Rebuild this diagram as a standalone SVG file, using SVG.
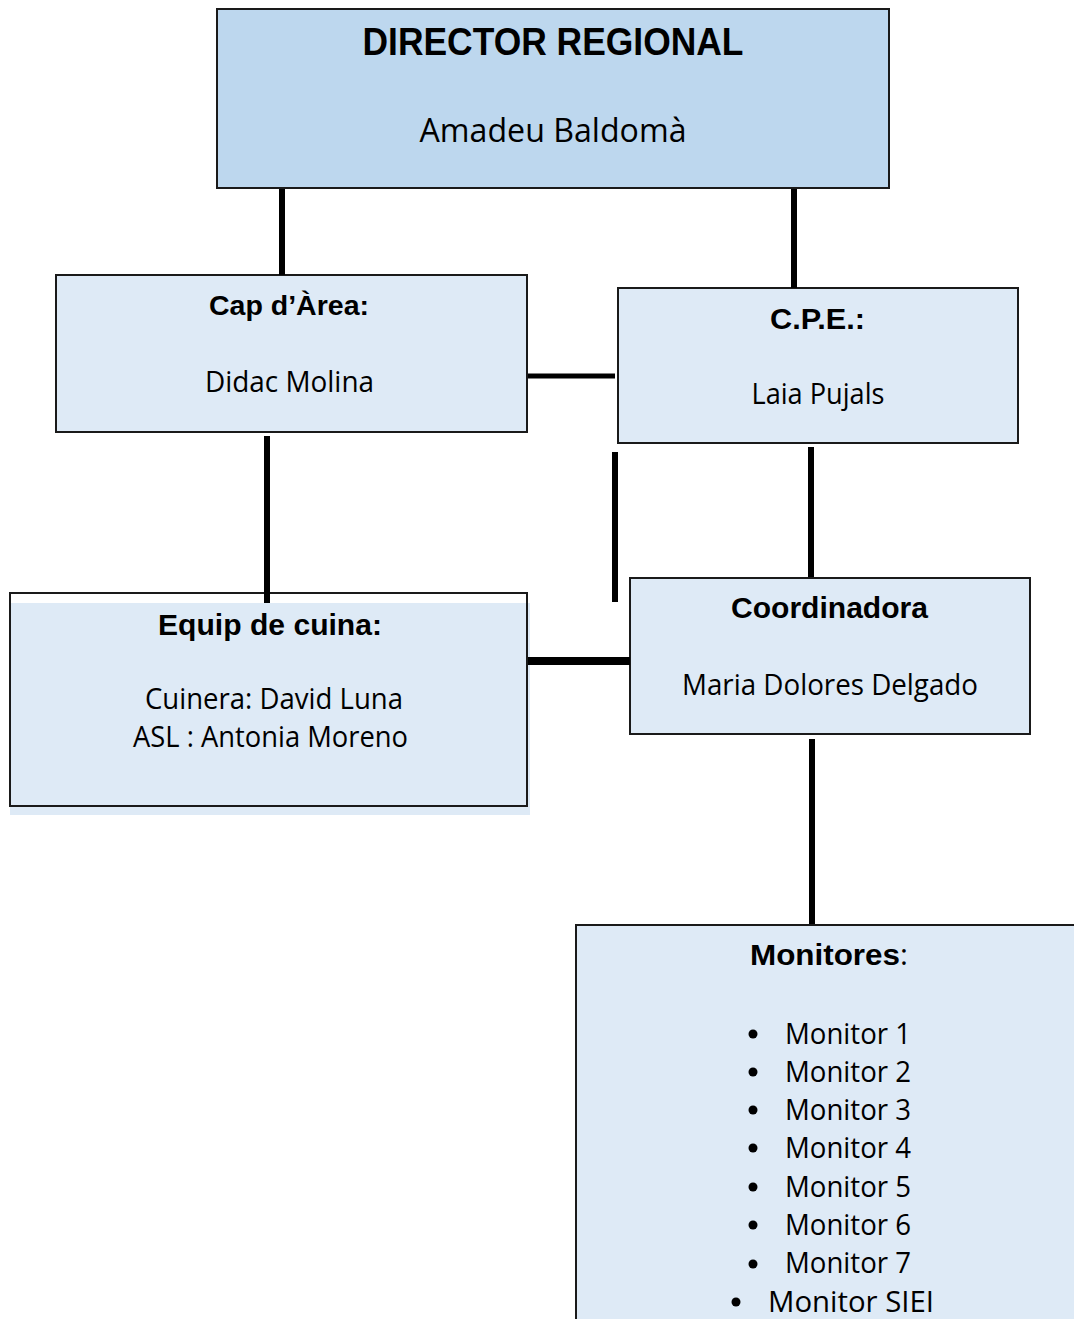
<svg xmlns="http://www.w3.org/2000/svg" width="1074" height="1319" viewBox="0 0 1074 1319">
<style>
.box{fill:#DEEAF6;stroke:#1a1a1a;stroke-width:2}
.top{fill:#BDD7EE;stroke:#1a1a1a;stroke-width:2}
.b{font-family:"Liberation Sans",Arial,sans-serif;font-weight:bold;fill:#000}
.r{font-family:"Open Sans","Noto Sans",sans-serif;fill:#000}
.c{text-anchor:middle}
.conn line{stroke:#000;stroke-linecap:butt}
</style>
<rect width="1074" height="1319" fill="#fff"/>
<g id="director">
<rect class="top" x="217" y="9" width="672" height="179"/>
<text class="b c" x="553" y="55" font-size="38" textLength="381" lengthAdjust="spacingAndGlyphs">DIRECTOR REGIONAL</text>
<text class="r c" x="553" y="142" font-size="33" textLength="267" lengthAdjust="spacingAndGlyphs">Amadeu Baldomà</text>
</g>
<g id="cap-area">
<rect class="box" x="56" y="275" width="471" height="157"/>
<text class="b c" x="289" y="315" font-size="28" textLength="160" lengthAdjust="spacingAndGlyphs">Cap d’Àrea:</text>
<text class="r c" x="289.5" y="392" font-size="30" textLength="169" lengthAdjust="spacingAndGlyphs">Didac Molina</text>
</g>
<g id="cpe">
<rect class="box" x="618" y="288" width="400" height="155"/>
<text class="b c" x="817.5" y="329" font-size="29" textLength="95" lengthAdjust="spacingAndGlyphs">C.P.E.:</text>
<text class="r c" x="818" y="404" font-size="30" textLength="133" lengthAdjust="spacingAndGlyphs">Laia Pujals</text>
</g>
<g id="coordinadora">
<rect class="box" x="630" y="578" width="400" height="156"/>
<text class="b c" x="829.5" y="618" font-size="29" textLength="197" lengthAdjust="spacingAndGlyphs">Coordinadora</text>
<text class="r c" x="830" y="695" font-size="30" textLength="296" lengthAdjust="spacingAndGlyphs">Maria Dolores Delgado</text>
</g>
<g id="equip-cuina">
<rect x="10" y="603" width="520" height="212" fill="#DEEAF6"/>
<rect x="10" y="593" width="517" height="213" fill="none" stroke="#1a1a1a" stroke-width="2"/>
<text class="b c" x="270" y="635" font-size="29" textLength="224" lengthAdjust="spacingAndGlyphs">Equip de cuina:</text>
<text class="r c" x="274" y="709" font-size="30" textLength="258" lengthAdjust="spacingAndGlyphs">Cuinera: David Luna</text>
<text class="r c" x="270.5" y="747" font-size="30" textLength="275" lengthAdjust="spacingAndGlyphs">ASL : Antonia Moreno</text>
</g>
<g id="monitores">
<rect class="box" x="576" y="925" width="510" height="410"/>
<text x="750" y="965" font-size="30"><tspan class="b" textLength="150" lengthAdjust="spacingAndGlyphs">Monitores</tspan><tspan class="r">:</tspan></text>
<g fill="#000">
<circle cx="753" cy="1034" r="4.5"/>
<circle cx="753" cy="1072" r="4.5"/>
<circle cx="753" cy="1110" r="4.5"/>
<circle cx="753" cy="1148" r="4.5"/>
<circle cx="753" cy="1187" r="4.5"/>
<circle cx="753" cy="1225" r="4.5"/>
<circle cx="753" cy="1264" r="4.5"/>
<circle cx="736" cy="1302" r="4.5"/>
</g>
<text class="r" x="785" y="1044" font-size="30" textLength="126" lengthAdjust="spacingAndGlyphs">Monitor 1</text>
<text class="r" x="785" y="1082" font-size="30" textLength="126" lengthAdjust="spacingAndGlyphs">Monitor 2</text>
<text class="r" x="785" y="1120" font-size="30" textLength="126" lengthAdjust="spacingAndGlyphs">Monitor 3</text>
<text class="r" x="785" y="1158" font-size="30" textLength="126" lengthAdjust="spacingAndGlyphs">Monitor 4</text>
<text class="r" x="785" y="1197" font-size="30" textLength="126" lengthAdjust="spacingAndGlyphs">Monitor 5</text>
<text class="r" x="785" y="1235" font-size="30" textLength="126" lengthAdjust="spacingAndGlyphs">Monitor 6</text>
<text class="r" x="785" y="1273" font-size="30" textLength="126" lengthAdjust="spacingAndGlyphs">Monitor 7</text>
<text class="r" x="768" y="1312" font-size="30" textLength="166" lengthAdjust="spacingAndGlyphs">Monitor SIEI</text>
</g>
<g class="conn" id="connectors">
<line x1="282" y1="189" x2="282" y2="275" stroke-width="6"/>
<line x1="794" y1="189" x2="794" y2="288" stroke-width="6"/>
<line x1="528" y1="376" x2="615" y2="376" stroke-width="5"/>
<line x1="267" y1="436" x2="267" y2="603" stroke-width="6"/>
<line x1="615" y1="452" x2="615" y2="602" stroke-width="6"/>
<line x1="811" y1="447" x2="811" y2="577" stroke-width="6"/>
<line x1="528" y1="661" x2="630" y2="661" stroke-width="8"/>
<line x1="812" y1="739" x2="812" y2="924" stroke-width="6"/>
</g>
</svg>
